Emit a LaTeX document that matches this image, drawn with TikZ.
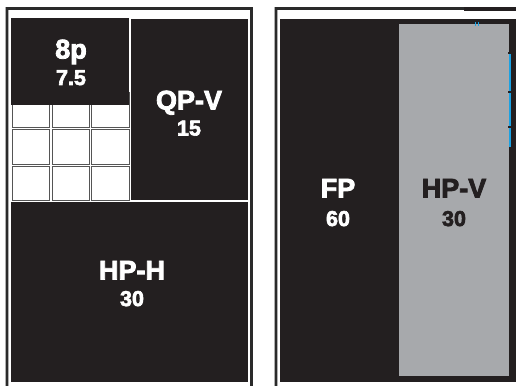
\documentclass[tikz,border=0pt]{standalone}
\usepackage{fontspec}
\setmainfont{Liberation Sans}[BoldFeatures={FakeBold=3}]
\definecolor{ink}{HTML}{231F20}
\definecolor{panelgray}{HTML}{A7A9AC}
\definecolor{framedark}{HTML}{2A2A2A}
\definecolor{framelight}{HTML}{B0B0B0}
\definecolor{tickblue}{HTML}{1BA1E2}
\tikzset{
  title/.style={anchor=base, font=\bfseries\fontsize{27}{27}\selectfont, inner sep=0pt},
  num/.style={anchor=base, font=\bfseries\fontsize{21.5}{21.5}\selectfont, inner sep=0pt},
  cell/.style={fill=white, draw=framedark!80, line width=0.8pt},
  frameout/.style={draw=framelight, line width=3.8pt},
  framein/.style={draw=framedark, line width=2.2pt}
}
\begin{document}
\begin{tikzpicture}[x=1pt, y=-1pt]
\useasboundingbox (0,0) rectangle (516,385);
\fill[white] (0,0) rectangle (516,385);
% ---- left panel frame
\draw[frameout] (7,390) -- (7,8.5) -- (251.5,8.5) -- (251.5,390);
\draw[framein]  (7,390) -- (7,8.5) -- (251.5,8.5) -- (251.5,390);
% grid cells
\foreach \xa/\xb in {12/49, 52/89, 91/129}{
  \foreach \ya/\yb in {92/127, 129/164, 166/200}{
    \draw[cell] (\xa,\ya) rectangle (\xb,\yb);
  }
}
% black boxes
\fill[ink] (11,18) rectangle (129,105);
\fill[ink] (131,19) rectangle (248,200);
\fill[ink] (11,202) rectangle (248,382);
\node[title, text=white] (t8p) at (71,58.5) {8p};
\node[num, text=white] (n8p) at (71,85) {7.5};
\node[title, text=white] (tqpv) at (189,109.5) {QP-V};
\node[num, text=white] (nqpv) at (189,135.5) {15};
\node[title, text=white] (thph) at (132,279.5) {HP-H};
\node[num, text=white] (nhph) at (132,306) {30};
% ---- right panel frame
\draw[frameout] (276,390) -- (276,8.5) -- (464,8.5);
\draw[framein]  (276,390) -- (276,8.5) -- (464,8.5);
\draw[ink, line width=4pt] (464,8.7) -- (516,8.7);
% right panel fills
\fill[ink] (280,19) rectangle (516,382);
\fill[panelgray] (399,24) rectangle (509,375.5);
% blue edge marks
\fill[tickblue] (509.3,53) rectangle (511.2,147);
\foreach \yy in {53,92,127}{ \fill[ink] (508,\yy-1) rectangle (514,\yy+1); }
\fill[tickblue] (475,22.5) rectangle (476.3,26);
\fill[tickblue] (478,22.5) rectangle (479.3,26);
\node[title, text=white] (tfp) at (338,197.5) {FP};
\node[num, text=white] (nfp) at (338,226) {60};
\node[title, text=ink] (thpv) at (454,197.5) {HP-V};
\node[num, text=ink] (nhpv) at (454,226) {30};
\end{tikzpicture}
\end{document}
